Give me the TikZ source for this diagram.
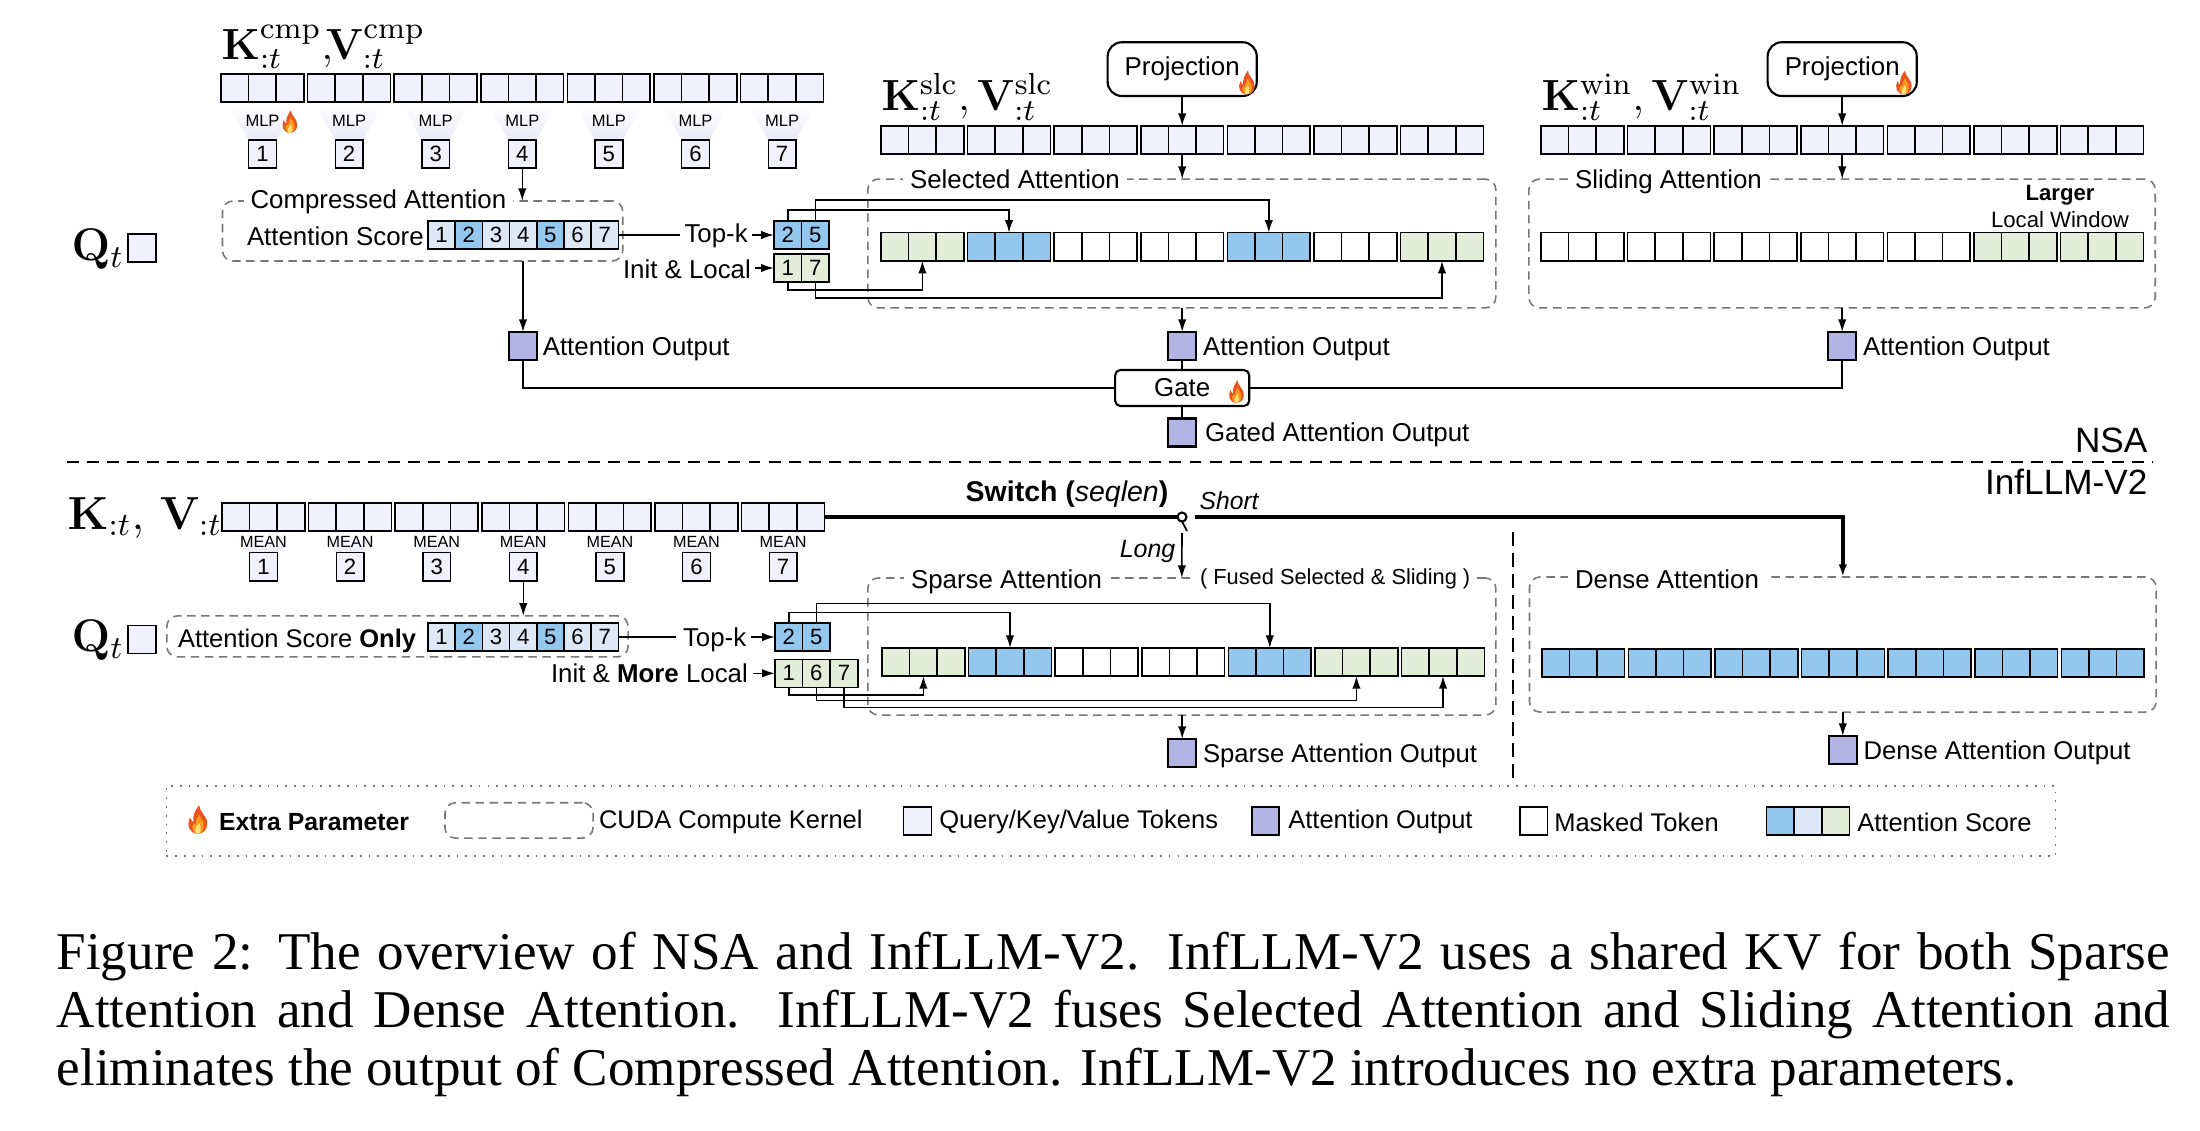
\documentclass[tikz,border=0pt]{standalone}
\usepackage{fix-cm}
\usepackage[no-math]{fontspec}
\setmainfont{Liberation Sans}
\newfontfamily\capfont{Liberation Serif}
\usepackage{xcolor}
\usepackage{tikz}
\usetikzlibrary{shapes.geometric, arrows.meta, positioning}

\definecolor{token}{HTML}{F0F1FC}
\definecolor{outfill}{HTML}{B4B4E4}
\definecolor{blue}{HTML}{93C7EE}
\definecolor{pale}{HTML}{DCE8F6}
\definecolor{green}{HTML}{E3EDD7}
\definecolor{kernelgray}{HTML}{777777}
\definecolor{flameout}{HTML}{E9551F}
\definecolor{flamemid}{HTML}{FB9A1C}
\definecolor{flamein}{HTML}{FFE27A}

\newcommand{\tokstrip}[4]{%
  \foreach \fillc [count=\g from 0] in {#4} {
    \foreach \ci in {0,1,2}
      \node[cell, fill=\fillc] (#1-\g-\ci) at ({#2+86.6*\g+13.8+27.6*\ci},{#3+14}) {};
  }
}

\begin{document}
\begin{tikzpicture}[
  x=0.01cm, y=-0.01cm,
  cell/.style={rectangle, draw=black, line width=0.45pt, minimum width=0.276cm,
               minimum height=0.28cm, inner sep=0pt, outer sep=0pt,
               font=\fontsize{6.3}{7}\selectfont},
  outbox/.style={cell, fill=outfill, line width=0.6pt},
  kernel/.style={rectangle, draw=kernelgray, line width=0.45pt, rounded corners=3pt,
                 dash pattern=on 2.4pt off 1.6pt, inner sep=0pt, outer sep=0pt},
  txt/.style={inner sep=0pt, outer sep=0pt, anchor=west, font=\fontsize{7.35}{9}\selectfont},
  outlbl/.style={txt, yshift=-0.025cm},
  lglbl/.style={txt, yshift=-0.01cm, font=\fontsize{7.25}{9}\selectfont},
  tag/.style={txt, fill=white, inner xsep=2pt, inner ysep=1pt},
  small/.style={inner sep=0pt, font=\fontsize{4.7}{5}\selectfont},
  big/.style={inner sep=0pt, anchor=base west, font=\fontsize{12.4}{14}\selectfont},
  proj/.style={rectangle, draw, fill=white, line width=0.6pt, rounded corners=4pt,
               minimum width=1.49cm, minimum height=0.537cm, inner sep=0pt, outer sep=0pt,
               font=\fontsize{7.35}{9}\selectfont},
  wire/.style={line width=0.5pt},
  arrow/.style={-{Latex[length=3.6pt,width=2.4pt]}, line width=0.45pt},
  flame/.pic={
    \fill[flameout] (0,12) .. controls (-8,12) and (-10,4) .. (-7,-2)
      .. controls (-6,0) and (-5,1) .. (-4,2)
      .. controls (-5,-4) and (-2,-9) .. (1,-13)
      .. controls (1,-7) and (8,-4) .. (8,3)
      .. controls (8,8) and (5,12) .. (0,12) -- cycle;
    \fill[flamemid] (0,12) .. controls (-5,12) and (-6,6) .. (-4,3)
      .. controls (-3,4) and (-2,4) .. (-2,3)
      .. controls (-2,0) and (0,-3) .. (1,-5)
      .. controls (2,-1) and (6,1) .. (5,6)
      .. controls (5,9) and (3,12) .. (0,12) -- cycle;
    \fill[flamein] (0,12) .. controls (-3,12) and (-3,8) .. (-1,5)
      .. controls (0,4) and (1,3) .. (1,2)
      .. controls (3,6) and (3,12) .. (0,12) -- cycle;
  }
]
\useasboundingbox (0,0) rectangle (2200,1130);

% upper half
\node[big] (kvcmp) at (221,59) {$\mathbf{K}^{\mathrm{cmp}}_{:t},\!\!\mathbf{V}^{\mathrm{cmp}}_{:t}$};
\tokstrip{cmp}{221}{74}{token,token,token,token,token,token,token}
\foreach \n [count=\i from 0] in {1,...,7} {
  \shade[top color=white, bottom color=outfill!28]
    ({262.5+86.6*\i-33},106) -- ({262.5+86.6*\i+33},106) --
    ({262.5+86.6*\i+13.8},140) -- ({262.5+86.6*\i-13.8},140) -- cycle;
  \node[small] (mlp-\n) at ({262.5+86.6*\i},121) {MLP};
  \node[cell, fill=token] (cmpn-\n) at ({262.5+86.6*\i},154) {\n};
}
\pic[scale=0.9] at (290,122) {flame};

\node[big, anchor=west, font=\fontsize{13}{15}\selectfont] (qup) at (71,249) {$\mathbf{Q}_t$};
\node[cell, fill=token] (qupbox) at (142,248) {};

\node[kernel, minimum width=4cm, minimum height=0.6cm] (cmpbox) at (422.6,231) {};
\node[tag] (cmptag) at (243.5,202) {Compressed Attention};
\node[txt] (scorelbl) at (247,236) {Attention Score};
\foreach \n/\col [count=\i from 0] in {1/pale,2/blue,3/pale,4/pale,5/blue,6/pale,7/pale}
  \node[cell, minimum width=0.272cm, fill=\col] (score-\n) at ({441.6+27.2*\i},235) {\n};
\node[txt] (topk) at (684.5,236) {Top-k};
\node[txt] (initl) at (623,269) {Init \& Local};
\node[cell, fill=blue] (tk-2) at (787.7,235) {2};
\node[cell, fill=blue, right=0pt of tk-2] (tk-5) {5};
\node[cell, fill=green] (il-1) at (787.7,268) {1};
\node[cell, fill=green, right=0pt of il-1] (il-7) {7};
\draw[wire, shorten >=1.3pt] (score-7.east) -- (score-7.east -| topk.west);
\draw[arrow] (tk-2.west -| topk.east) ++(4,0) -- (tk-2.west);
\draw[arrow] (il-1.west -| initl.east) ++(4,0) -- (il-1.west);
\draw[arrow] (cmpn-4.south) -- (cmpn-4.south |- cmpbox.north);

\node[big, anchor=base west] (kvslc) at (881,110) {$\mathbf{K}^{\mathrm{slc}}_{:t}, \mathbf{V}^{\mathrm{slc}}_{:t}$};
\tokstrip{slc}{881}{126}{token,token,token,token,token,token,token}
\node[proj, above=0.3cm of slc-3-1] (projslc) {\raisebox{-0.8pt}{Projection}};
\pic[scale=0.95] at (1247,83) {flame};
\node[kernel, minimum width=6.276cm, minimum height=1.287cm] (selbox) at (1181.8,243.5) {};
\node[tag] (seltag) at (903,179) {Selected Attention};
\tokstrip{sel}{881}{232.7}{green,blue,white,white,blue,white,green}
\draw[arrow] (projslc.south) -- (slc-3-1.north);
\draw[arrow] (slc-3-1.south) -- (slc-3-1.south |- selbox.north);
\draw[arrow] (tk-2.north) -- ++(0,-11) -| (sel-1-1.north);
\draw[arrow] (tk-5.north) -- ++(0,-21) -| (sel-4-1.north);
\draw[arrow] (il-1.south) -- ++(0,8) -| (sel-0-1.south);
\draw[arrow] (il-7.south) -- ++(0,16) -| (sel-6-1.south);

\node[big, anchor=base west] (kvwin) at (1541,110) {$\mathbf{K}^{\mathrm{win}}_{:t}, \mathbf{V}^{\mathrm{win}}_{:t}$};
\tokstrip{win}{1541}{126}{token,token,token,token,token,token,token}
\node[proj, above=0.3cm of win-3-1] (projwin) {\raisebox{-0.8pt}{Projection}};
\pic[scale=0.95] at (1904,83) {flame};
\node[kernel, minimum width=6.26cm, minimum height=1.287cm] (winbox) at (1842,243.5) {};
\node[tag] (wintag) at (1568,182) {Sliding Attention};
\node[inner sep=0pt, font=\fontsize{6.3}{8}\selectfont\bfseries] (larger) at (2060,195) {Larger};
\node[inner sep=0pt, font=\fontsize{6.3}{8}\selectfont] (localwin) at (2060,220) {Local Window};
\tokstrip{wsel}{1541}{232.7}{white,white,white,white,white,green,green}
\draw[arrow] (projwin.south) -- (win-3-1.north);
\draw[arrow] (win-3-1.south) -- (win-3-1.south |- winbox.north);

\node[outbox] (out1) at (523,346) {};
\node[outbox] (out2) at (1182.2,346) {};
\node[outbox] (out3) at (1842.2,346) {};
\node[outlbl, right=0.06cm of out1] (out1lbl) {Attention Output};
\node[outlbl, right=0.07cm of out2] (out2lbl) {Attention Output};
\node[outlbl, right=0.07cm of out3] (out3lbl) {Attention Output};
\draw[arrow] (out1 |- cmpbox.south) -- (out1.north);
\draw[arrow] (out2 |- selbox.south) -- (out2.north);
\draw[arrow] (out3 |- winbox.south) -- (out3.north);
\node[proj, rounded corners=1.5pt, minimum width=1.34cm, minimum height=0.36cm] (gate) at (1182.2,388) {\raisebox{-0.4pt}{Gate}};
\pic[scale=0.9] at (1236.6,392) {flame};
\node[outbox, below=0.125cm of gate] (gated) {};
\node[outlbl, right=0.09cm of gated] (gatedlbl) {Gated Attention Output};
\draw[wire] (out1.south) |- (gate.west);
\draw[wire] (out3.south) |- (gate.east);
\draw[wire] (out2.south) -- (gate.north);
\draw[wire] (gate.south) -- (gated.north);

\node[inner sep=0pt, anchor=east, font=\fontsize{10}{12}\selectfont] (nsa) at (2148,440) {NSA};
\coordinate (sepl) at (67,462);
\coordinate (sepr) at (2152,462);
\draw[line width=0.6pt, dash pattern=on 3.4pt off 2.3pt] (sepl) -- (sepr);
\node[inner sep=0pt, anchor=east, font=\fontsize{10}{12}\selectfont] (inf) at (2148,482) {InfLLM-V2};

% lower half
\node[big, font=\fontsize{13.2}{15}\selectfont] (kv) at (67,529) {$\mathbf{K}_{:t},\,\mathbf{V}_{:t}$};
\tokstrip{kv}{222}{503}{token,token,token,token,token,token,token}
\foreach \n [count=\i from 0] in {1,...,7} {
  \shade[top color=white, bottom color=outfill!28]
    ({263.5+86.6*\i-29},533) -- ({263.5+86.6*\i+29},533) --
    ({263.5+86.6*\i+13.8},553) -- ({263.5+86.6*\i-13.8},553) -- cycle;
  \node[small, font=\fontsize{4.6}{5}\selectfont] (mean-\n) at ({263.5+86.6*\i},541.7) {MEAN};
  \node[cell, fill=token] (kvn-\n) at ({263.5+86.6*\i},566.7) {\n};
}

\node[big, anchor=west, font=\fontsize{13}{15}\selectfont] (qlow) at (71,640) {$\mathbf{Q}_t$};
\node[cell, fill=token] (qlowbox) at (142,639.5) {};
\node[kernel, minimum width=4.61cm, minimum height=0.41cm] (lcmpbox) at (397.5,636.4) {};
\node[txt, font=\fontsize{7.25}{9}\selectfont] (lscorelbl) at (178,640.5) {Attention Score \textbf{Only}};
\foreach \n/\col [count=\i from 0] in {1/pale,2/blue,3/pale,4/pale,5/blue,6/pale,7/pale}
  \node[cell, minimum width=0.272cm, fill=\col] (lscore-\n) at ({441.6+27.2*\i},637) {\n};
\node[txt] (ltopk) at (683,639.5) {Top-k};
\node[txt] (linitl) at (551,673) {Init \& \textbf{More} Local};
\node[cell, fill=blue] (ltk-2) at (788.7,637) {2};
\node[cell, fill=blue, right=0pt of ltk-2] (ltk-5) {5};
\node[cell, fill=green] (lil-1) at (788.7,673.3) {1};
\node[cell, fill=green, right=0pt of lil-1] (lil-6) {6};
\node[cell, fill=green, right=0pt of lil-6] (lil-7) {7};
\draw[wire, shorten >=2pt] (lscore-7.east) -- (lscore-7.east -| ltopk.west);
\draw[arrow] (ltk-2.west -| ltopk.east) ++(5,0) -- (ltk-2.west);
\draw[arrow] (lil-1.west -| linitl.east) ++(5,0) -- (lil-1.west);
\draw[arrow] (kvn-4.south) -- (kvn-4.south |- lcmpbox.north);

\node[inner sep=0pt, anchor=east, font=\fontsize{8.1}{10}\selectfont] (swlbl) at (1169,494) {\textbf{Switch (}\textit{seqlen}\textbf{)}};
\node[circle, draw, fill=white, line width=0.6pt, minimum size=0.09cm, inner sep=0pt, outer sep=0pt] (sw) at (1182,517) {};
\coordinate (swend) at (1187,531);
\coordinate (swout) at (1194.7,517);
\coordinate (longin) at (1182,533);
\node[inner sep=0pt, anchor=east, font=\fontsize{7.1}{9}\selectfont\itshape] (longlbl) at (1176,551) {Long};
\node[inner sep=0pt, anchor=west, font=\fontsize{7}{9}\selectfont\itshape] (shortlbl) at (1199,501) {Short};

\node[kernel, minimum width=6.276cm, minimum height=1.37cm] (sprbox) at (1181.8,646.5) {};
\node[tag] (sprtag) at (904,582) {Sparse Attention};
\node[tag, font=\fontsize{6.2}{8}\selectfont] (fusetag) at (1193,579) {( Fused Selected \& Sliding )};
\tokstrip{spr}{882}{648}{green,blue,white,white,blue,green,green}
\node[kernel, minimum width=6.263cm, minimum height=1.35cm] (dnsbox) at (1842.8,644.5) {};
\node[tag] (dnstag) at (1568,579) {Dense Attention};
\tokstrip{dns}{1541.7}{649}{blue,blue,blue,blue,blue,blue,blue}

\draw[line width=1pt] (kv-6-2.east |- sw.west) -- (sw.west);
\draw[wire] (sw.south) -- (swend);
\draw[arrow, line width=1pt] (swout) -| (dnsbox.north);
\draw[arrow] (longin) -- (sprbox.north);
\draw[arrow] (ltk-2.north) -- ++(0,-10.5) -| (spr-1-1.north);
\draw[arrow] (ltk-5.north) -- ++(0,-19.5) -| (spr-4-1.north);
\draw[arrow] (lil-1.south) -- ++(0,7.5) -| (spr-0-1.south);
\draw[arrow] (lil-6.south) -- ++(0,13) -| (spr-5-1.south);
\draw[arrow] (lil-7.south) -- ++(0,20) -| (spr-6-1.south);

\node[outbox] (sprout) at (1182.2,753) {};
\node[outlbl, font=\fontsize{7.3}{9}\selectfont, right=0.07cm of sprout] (sproutlbl) {Sparse Attention Output};
\node[outbox] (dnsout) at (1842.8,750) {};
\node[outlbl, font=\fontsize{7.3}{9}\selectfont, right=0.07cm of dnsout] (dnsoutlbl) {Dense Attention Output};
\draw[arrow] (sprout |- sprbox.south) -- (sprout.north);
\draw[arrow] (dnsout |- dnsbox.south) -- (dnsout.north);

\coordinate (divtop) at (1512.6,532);
\coordinate (divbot) at (1512.6,779);
\draw[line width=0.6pt, dash pattern=on 4pt off 2pt] (divtop) -- (divbot);

% legend
\node[rectangle, draw=kernelgray, line width=0.5pt, dotted, minimum width=18.88cm, minimum height=0.7cm, inner sep=0pt] (legend) at (1111,821) {};
\pic[scale=1.15] at (198,820) {flame};
\node[lglbl, font=\fontsize{7.05}{9}\selectfont] (lgextra) at (219,821) {\textbf{Extra Parameter}};
\node[kernel, minimum width=1.48cm, minimum height=0.353cm] (lgkernel) at (519,820.4) {};
\node[lglbl, right=0.06cm of lgkernel] (lgkernellbl) {CUDA Compute Kernel};
\node[cell, fill=token] (lgtoken) at (917.5,821) {};
\node[lglbl, right=0.08cm of lgtoken] (lgtokenlbl) {Query/Key/Value Tokens};
\node[outbox] (lgout) at (1265.5,821) {};
\node[lglbl, right=0.09cm of lgout] (lgoutlbl) {Attention Output};
\node[cell, fill=white] (lgmask) at (1533.5,821) {};
\node[lglbl, right=0.07cm of lgmask] (lgmasklbl) {Masked Token};
\node[cell, fill=blue] (lgs1) at (1780.3,821) {};
\node[cell, fill=pale, right=0pt of lgs1] (lgs2) {};
\node[cell, fill=green, right=0pt of lgs2] (lgs3) {};
\node[lglbl, right=0.08cm of lgs3] (lgs3lbl) {Attention Score};

% caption
\node[anchor=north west, inner sep=0pt, text width=21.12cm, align=justify,
      font=\capfont\fontsize{15.1}{16.55}\selectfont] (caption) at (56,931)
  {Figure 2: The overview of NSA and InfLLM-V2. InfLLM-V2 uses a shared KV for both Sparse\linebreak
   Attention and Dense Attention. InfLLM-V2 fuses Selected Attention and Sliding Attention and\linebreak
   eliminates the output of Compressed Attention. InfLLM-V2 introduces no extra parameters.};
\end{tikzpicture}
\end{document}
